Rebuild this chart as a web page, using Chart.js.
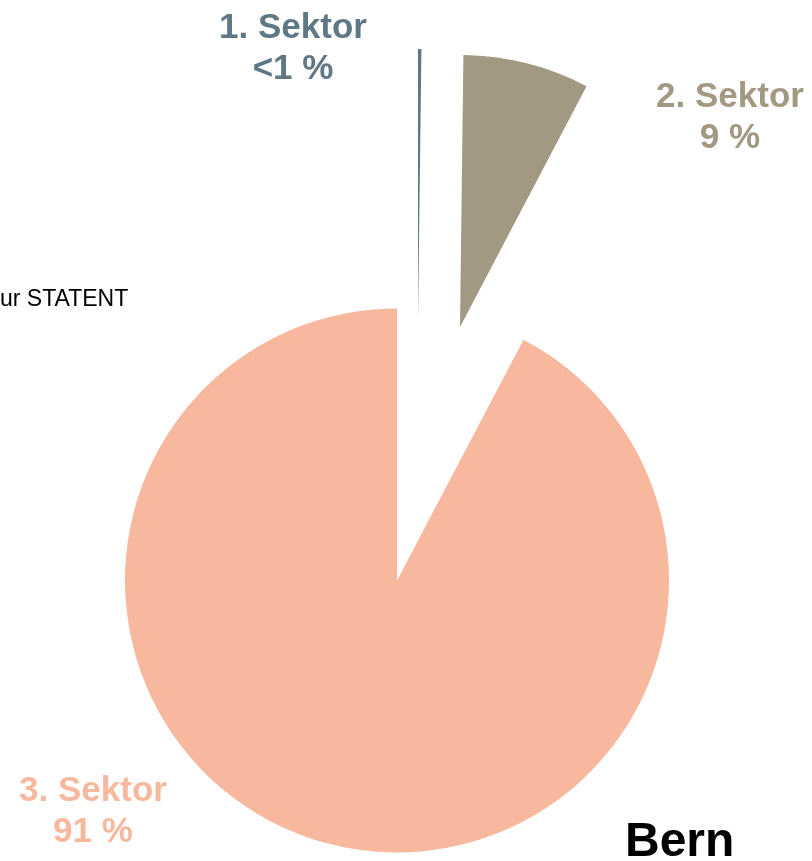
<!DOCTYPE html>
<html>
<head>
<meta charset="utf-8">
<title>Bern - Sektoren</title>
<script src="https://cdn.jsdelivr.net/npm/chart.js@4/dist/chart.umd.min.js"></script>
<style>
body { margin: 0; background: #fff; font-family: "Liberation Sans", Arial, sans-serif; }
#wrap { position: relative; width: 812px; height: 861px; overflow: hidden; }
#wrap canvas { position: absolute; left: 0; top: 0; }
.lbl { position: absolute; width: 220px; font-weight: bold; font-size: 35px; line-height: 41px; text-align: center; white-space: nowrap; }
#bern { position: absolute; left: 625px; top: 816px; font-weight: bold; font-size: 48px; line-height: 48px; color: #000; }
#source { position: absolute; left: 0; top: 287px; font-size: 23px; line-height: 23px; color: #000; white-space: nowrap; }
</style>
</head>
<body>
<div id="wrap">
  <canvas id="c3" width="812" height="861"></canvas>
  <canvas id="c2" width="812" height="861"></canvas>
  <canvas id="c1" width="812" height="861"></canvas>
  <div id="source">ur STATENT</div>
  <div id="bern">Bern</div>
</div>
<script>
// Anteile der Beschäftigten nach Sektor (Bern)
var sectors = ["1. Sektor", "2. Sektor", "3. Sektor"];
var shares = [0.2, 7.5, 92.3];
var shareLabels = ["<1 %", "9 %", "91 %"];
var colors = ["#5f7886", "#a39882", "#f7b89e"];

// each slice gets its own canvas so it can be pulled out of the pie
var slicePadding = [
    { left: 24, right: 0, top: 0, bottom: 219 },
    { left: 108, right: 0, top: 0, bottom: 207 },
    { left: 0, right: 18, top: 300, bottom: 0 }
];
var labelPos = [
    { x: 293, y: 5 },
    { x: 730, y: 74 },
    { x: 93, y: 768 }
];

function drawSlice(idx) {
    var ctx = document.getElementById("c" + (idx + 1)).getContext("2d");
    var bg = [];
    for (var i = 0; i < shares.length; i++) {
        bg.push(i === idx ? colors[i] : "rgba(0,0,0,0)");
    }
    new Chart(ctx, {
        type: "pie",
        data: {
            labels: sectors,
            datasets: [{
                data: shares,
                backgroundColor: bg,
                borderWidth: 0,
                clip: false
            }]
        },
        options: {
            responsive: false,
            animation: false,
            events: [],
            radius: 272,
            layout: { padding: slicePadding[idx] },
            plugins: {
                legend: { display: false },
                tooltip: { enabled: false }
            }
        }
    });
}

var wrap = document.getElementById("wrap");
for (var i = 0; i < sectors.length; i++) {
    drawSlice(i);
    var d = document.createElement("div");
    d.className = "lbl";
    d.style.left = (labelPos[i].x - 110) + "px";
    d.style.top = labelPos[i].y + "px";
    d.style.color = colors[i];
    d.innerHTML = sectors[i] + "<br>" + shareLabels[i].replace("<", "&lt;");
    wrap.appendChild(d);
}
</script>
</body>
</html>
